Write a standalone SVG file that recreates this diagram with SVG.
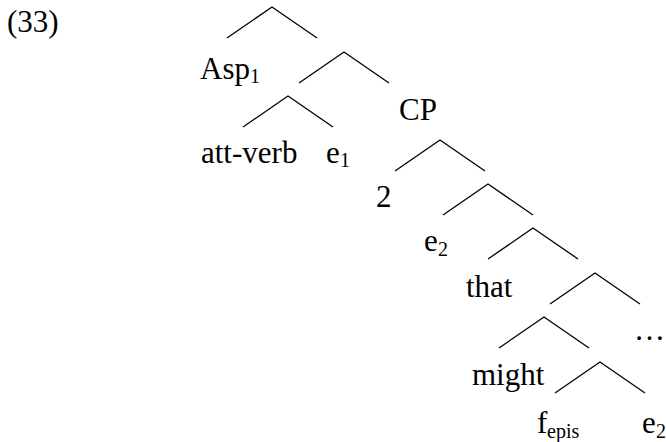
<svg xmlns="http://www.w3.org/2000/svg" width="666" height="442" viewBox="0 0 666 442">
<style>
.t{font-family:"Liberation Serif","Times New Roman",serif;font-size:31px;fill:#000}
.s{font-family:"Liberation Serif","Times New Roman",serif;font-size:20px;fill:#000}
.c{fill:none;stroke:#000;stroke-width:1.3}
</style>
<rect width="666" height="442" fill="#fff"/>
<g id="connectors">
<polyline class="c" points="227,38 272,7 317,38"/>
<polyline class="c" points="299,83 344,52 389,83"/>
<polyline class="c" points="243,127 288,96 333,127"/>
<polyline class="c" points="395,171 440,140 485,171"/>
<polyline class="c" points="443,215 488,184 533,215"/>
<polyline class="c" points="488,259 533,228 578,259"/>
<polyline class="c" points="550,304 595,273 640,304"/>
<polyline class="c" points="499,348 544,317 589,348"/>
<polyline class="c" points="555,393 600,362 645,393"/>
</g>
<g id="label33"><text class="t" x="7" y="32">(33)</text></g>
<g id="asp1"><text class="t" x="200" y="79">Asp</text><text class="s" x="250" y="83">1</text></g>
<g id="attverb"><text class="t" x="201" y="163">att-verb</text></g>
<g id="e1"><text class="t" x="326" y="163">e</text><text class="s" x="340" y="167">1</text></g>
<g id="cp"><text class="t" x="399" y="120">CP</text></g>
<g id="two"><text class="t" x="376" y="207">2</text></g>
<g id="e2a"><text class="t" x="424" y="251">e</text><text class="s" x="438" y="256">2</text></g>
<g id="that"><text class="t" x="466" y="297">that</text></g>
<g id="ellipsis"><text class="t" x="634" y="340">…</text></g>
<g id="might"><text class="t" x="472" y="385">might</text></g>
<g id="fepis"><text class="t" x="537" y="433">f</text><text class="s" x="547" y="438">epis</text></g>
<g id="e2b"><text class="t" x="642" y="433">e</text><text class="s" x="656" y="438">2</text></g>
</svg>
